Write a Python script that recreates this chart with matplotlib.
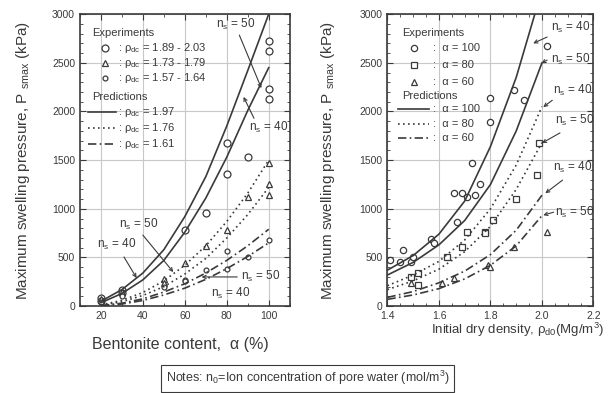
"""Swelling pressure vs bentonite content and initial dry density."""

import matplotlib
matplotlib.use('Agg')
import matplotlib.pyplot as plt
from matplotlib.ticker import MultipleLocator

plt.rcParams['font.family'] = ['Liberation Sans', 'DejaVu Sans']
plt.rcParams['mathtext.fontset'] = 'custom'
plt.rcParams['mathtext.rm'] = 'Liberation Sans'
plt.rcParams['mathtext.it'] = 'Liberation Sans'

INK = '#3a3a3a'
GRID = '#c8c8c8'

# ---- left panel: bentonite content (%) ----
alpha_hi = [20, 20, 30, 30, 60, 70, 80, 80, 90, 100, 100, 100, 100]
p_hi = [80, 50, 170, 130, 780, 960, 1360, 1680, 1530, 2130, 2230, 2620, 2720]
alpha_mid = [20, 30, 50, 50, 60, 70, 80, 90, 100, 100, 100]
p_mid = [70, 150, 280, 240, 440, 620, 780, 1120, 1140, 1260, 1470]
alpha_lo = [20, 30, 50, 60, 60, 70, 80, 80, 90, 100]
p_lo = [40, 100, 200, 270, 260, 370, 570, 380, 500, 680]

alpha_pred = [20, 30, 40, 50, 60, 70, 80, 90, 100]
solid_n40 = [50, 170, 340, 580, 920, 1330, 1850, 2420, 3000]
solid_n50 = [35, 130, 270, 470, 760, 1110, 1530, 2010, 2450]
dot_n40 = [12, 60, 140, 260, 420, 620, 870, 1160, 1500]
dot_n50 = [8, 45, 110, 200, 330, 490, 700, 940, 1220]
dash_n40 = [6, 30, 75, 145, 230, 340, 470, 620, 790]
dash_n50 = [4, 22, 58, 115, 185, 275, 385, 510, 650]

# ---- right panel: initial dry density (Mg/m3) ----
rho_a100 = [1.41, 1.45, 1.46, 1.49, 1.50, 1.57, 1.58, 1.67, 1.66, 1.69, 1.71,
            1.73, 1.74, 1.76, 1.80, 1.80, 1.89, 1.93, 2.02]
p_a100 = [470, 450, 575, 450, 510, 690, 650, 860, 1160, 1160, 1120,
          1470, 1140, 1260, 2140, 1890, 2220, 2120, 2670]
rho_a80 = [1.49, 1.52, 1.52, 1.63, 1.69, 1.71, 1.78, 1.78, 1.81, 1.90, 1.98, 1.99]
p_a80 = [300, 340, 220, 510, 610, 760, 760, 750, 890, 1100, 1350, 1680]
rho_a60 = [1.49, 1.61, 1.66, 1.79, 1.80, 1.89, 2.02]
p_a60 = [240, 240, 290, 420, 400, 610, 760]

rho_pred = [1.4, 1.5, 1.6, 1.7, 1.8, 1.9, 2.0]
r_solid_n40 = [370, 520, 740, 1080, 1640, 2350, 3250]
r_solid_n50 = [320, 450, 630, 880, 1250, 1800, 2500]
r_dot_n40 = [210, 320, 460, 680, 1000, 1450, 2050]
r_dot_n50 = [170, 260, 380, 560, 820, 1200, 1680]
r_dash_n40 = [90, 150, 240, 360, 530, 780, 1140]
r_dash_n50 = [70, 115, 180, 280, 420, 620, 930]

DOT = (0, (1, 2))
DASHDOT = (0, (5, 2, 1, 2))


def style_axes(ax, xmajor, xminor):
    """Inward ticks on all sides, light grid, grey ink."""
    ax.set_ylim(0, 3000)
    ax.yaxis.set_major_locator(MultipleLocator(500))
    ax.yaxis.set_minor_locator(MultipleLocator(100))
    ax.xaxis.set_major_locator(MultipleLocator(xmajor))
    ax.xaxis.set_minor_locator(MultipleLocator(xminor))
    ax.tick_params(which='both', direction='in', top=True, right=True,
                   colors=INK, labelsize=7.5)
    ax.tick_params(which='major', length=4)
    ax.tick_params(which='minor', length=2)
    ax.grid(True, which='major', color=GRID, lw=0.8)
    ax.set_axisbelow(True)
    for s in ax.spines.values():
        s.set_color(INK)
        s.set_linewidth(1.2)
    ax.set_ylabel('Maximum swelling pressure, P $_{smax}$ (kPa)', fontsize=11,
                  color=INK)


def arrow(ax, xy, xytext):
    ax.annotate('', xy=xy, xytext=xytext,
                arrowprops=dict(arrowstyle='->', color=INK, lw=0.8,
                                shrinkA=0, shrinkB=0, mutation_scale=6))


def predictions(ax, x, curves):
    for y, ls in curves:
        ax.plot(x, y, color=INK, lw=1.2, ls=ls)


fig = plt.figure(figsize=(6.15, 3.93), dpi=100)
ax1 = fig.add_axes([0.130, 0.221, 0.341, 0.743])
ax2 = fig.add_axes([0.630, 0.221, 0.335, 0.743])

# left panel
mk = dict(mfc='white', mec=INK, ls='none', mew=0.9)
ax1.plot(alpha_hi, p_hi, marker='o', ms=5, **mk)
ax1.plot(alpha_mid, p_mid, marker='^', ms=4.5, **mk)
ax1.plot(alpha_lo, p_lo, marker='o', ms=3.5, **mk)
predictions(ax1, alpha_pred, [(solid_n40, '-'), (solid_n50, '-'),
                              (dot_n40, DOT), (dot_n50, DOT),
                              (dash_n40, DASHDOT), (dash_n50, DASHDOT)])
ax1.set_xlim(10, 110)
style_axes(ax1, 20, 10)
ax1.set_xticks([20, 40, 60, 80, 100])
ax1.set_xlabel('Bentonite content,  \u03b1 (%)', fontsize=11.5, color=INK)
ax1.xaxis.set_label_coords(0.48, -0.105)
ax1.yaxis.set_label_coords(-0.23, 0.5)

# left legend drawn by hand
tx = dict(fontsize=8, color=INK, va='center', transform=ax1.transAxes)
ax1.text(0.06, 0.935, 'Experiments', **tx)
rows = [('o', 5, '1.89 - 2.03'), ('^', 4.5, '1.73 - 1.79'), ('o', 3.5, '1.57 - 1.64')]
for i, (m, s, lab) in enumerate(rows):
    y = 0.885 - i * 0.052
    ax1.plot([0.12], [y], marker=m, ms=s, transform=ax1.transAxes, **mk)
    ax1.text(0.18, y, ': \u03c1$_{dc}$ = ' + lab, **tx)
ax1.text(0.06, 0.715, 'Predictions', **tx)
for i, (ls, lab) in enumerate([('-', '1.97'), (DOT, '1.76'), (DASHDOT, '1.61')]):
    y = 0.665 - i * 0.055
    ax1.plot([0.04, 0.17], [y, y], color=INK, lw=1.2, ls=ls, transform=ax1.transAxes)
    ax1.text(0.18, y, ': \u03c1$_{dc}$ = ' + lab, **tx)

ann = dict(fontsize=8.5, color=INK, ha='center', va='center')
ax1.text(84, 2890, 'n$_s$ = 50', **ann)
arrow(ax1, (96.5, 2240), (86, 2785))
ax1.text(100, 1840, 'n$_s$ = 40', **ann)
arrow(ax1, (88, 2150), (93, 1930))
ax1.text(38, 835, 'n$_s$ = 50', **ann)
arrow(ax1, (54.5, 350), (40, 730))
ax1.text(27.5, 630, 'n$_s$ = 40', **ann)
arrow(ax1, (37, 290), (31, 505))
ax1.text(96, 300, 'n$_s$ = 50', **ann)
arrow(ax1, (68, 300), (85, 300))
ax1.text(82, 135, 'n$_s$ = 40', **ann)

# right panel
ax2.plot(rho_a100, p_a100, marker='o', ms=4.5, **mk)
ax2.plot(rho_a80, p_a80, marker='s', ms=4.5, **mk)
ax2.plot(rho_a60, p_a60, marker='^', ms=4.5, **mk)
predictions(ax2, rho_pred, [(r_solid_n40, '-'), (r_solid_n50, '-'),
                            (r_dot_n40, DOT), (r_dot_n50, DOT),
                            (r_dash_n40, DASHDOT), (r_dash_n50, DASHDOT)])
ax2.set_xlim(1.4, 2.2)
style_axes(ax2, 0.2, 0.05)
ax2.set_xticks([1.4, 1.6, 1.8, 2.0, 2.2])
ax2.set_xticklabels(['1.4', '1.6', '1.8', '2.0', '2.2'])
ax2.set_xlabel('Initial dry density, \u03c1$_{d0}$(Mg/m$^3$)', fontsize=9.5, color=INK)
ax2.xaxis.set_label_coords(0.63, -0.05)
ax2.yaxis.set_label_coords(-0.245, 0.5)

tx2 = dict(fontsize=8, color=INK, va='center', transform=ax2.transAxes)
ax2.text(0.07, 0.935, 'Experiments', **tx2)
for i, (m, lab) in enumerate([('o', '100'), ('s', '80'), ('^', '60')]):
    y = 0.885 - i * 0.058
    ax2.plot([0.13], [y], marker=m, ms=4.5, transform=ax2.transAxes, **mk)
    ax2.text(0.22, y, ':  \u03b1 = ' + lab, **tx2)
ax2.text(0.07, 0.72, 'Predictions', **tx2)
for i, (ls, lab) in enumerate([('-', '100'), (DOT, '80'), (DASHDOT, '60')]):
    y = 0.675 - i * 0.05
    ax2.plot([0.05, 0.2], [y, y], color=INK, lw=1.2, ls=ls, transform=ax2.transAxes)
    ax2.text(0.22, y, ':  \u03b1 = ' + lab, **tx2)

ax2.text(2.11, 2860, 'n$_s$ = 40', **ann)
arrow(ax2, (1.966, 2700), (2.02, 2765))
ax2.text(2.11, 2530, 'n$_s$ = 50', **ann)
arrow(ax2, (1.998, 2495), (2.02, 2528))
ax2.text(2.12, 2220, 'n$_s$ = 40', **ann)
arrow(ax2, (2.005, 2045), (2.04, 2115))
ax2.text(2.125, 1910, 'n$_s$ = 50', **ann)
arrow(ax2, (2.0, 1675), (2.07, 1780))
ax2.text(2.12, 1430, 'n$_s$ = 40', **ann)
arrow(ax2, (2.013, 1160), (2.08, 1295))
ax2.text(2.125, 965, 'n$_s$ = 50', **ann)
arrow(ax2, (2.005, 935), (2.045, 965))

fig.text(0.5, 0.038, 'Notes: n$_0$=Ion concentration of pore water (mol/m$^3$)',
         ha='center', va='center', fontsize=9, color=INK,
         bbox=dict(boxstyle='square,pad=0.35', fc='white', ec=INK, lw=0.8))

fig.savefig('out.png', dpi=100, facecolor='white')
